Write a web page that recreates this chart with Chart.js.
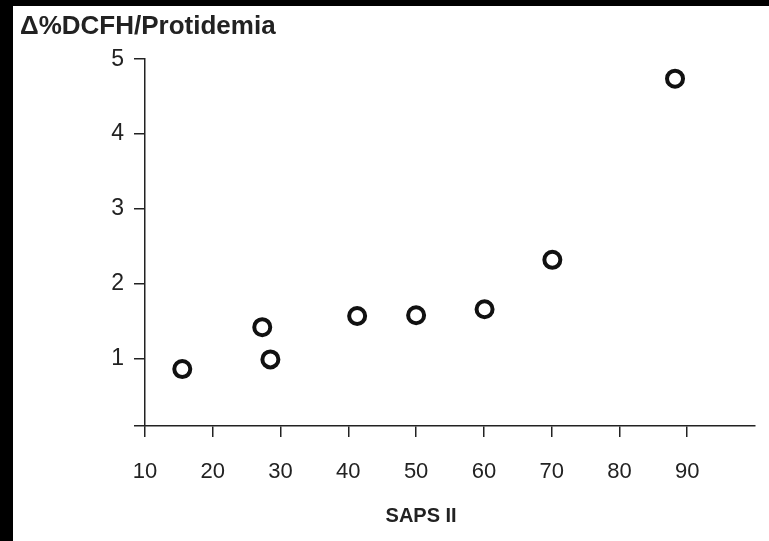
<!DOCTYPE html>
<html>
<head>
<meta charset="utf-8">
<script src="https://cdn.jsdelivr.net/npm/chart.js@4/dist/chart.umd.min.js"></script>
<style>
  html, body { margin: 0; padding: 0; background: #000; }
  #frame { position: absolute; left: 13px; top: 6px; width: 756px; height: 535px; background: #fff; }
</style>
</head>
<body>
<div id="frame"><canvas id="chart" width="756" height="535"></canvas></div>
<script>
// SAPS II score against the DCFH change normalised by protidemia
const sapsScore = [15.5, 27.3, 28.5, 41.3, 50, 60.1, 70.1, 88.2];
const dcfhRatio = [0.86, 1.42, 0.99, 1.57, 1.58, 1.66, 2.32, 4.74];

const xTicks = [10, 20, 30, 40, 50, 60, 70, 80, 90];
const yTicks = [1, 2, 3, 4, 5];

const yTitle = '\u0394%DCFH/Protidemia';
const xTitle = 'SAPS II';

const INK = '#222';
const FONT = "'Liberation Sans', Arial, sans-serif";

const points = sapsScore.map((x, i) => ({ x, y: dcfhRatio[i] }));

// x-axis caption, centred under the labelled tick range
const xCaption = {
  id: 'xCaption',
  afterDraw(chart) {
    const { ctx, scales } = chart;
    const x = (scales.x.getPixelForValue(xTicks[0]) + scales.x.getPixelForValue(xTicks[xTicks.length - 1])) / 2;
    ctx.save();
    ctx.font = `bold 20px ${FONT}`;
    ctx.fillStyle = INK;
    ctx.textAlign = 'center';
    ctx.textBaseline = 'middle';
    ctx.fillText(xTitle, x + 5, 510);
    ctx.restore();
  },
};

new Chart(document.getElementById('chart'), {
  type: 'scatter',
  data: {
    datasets: [{
      data: points,
      pointStyle: 'circle',
      pointRadius: 8,
      pointBorderWidth: 4,
      borderColor: '#111',
      backgroundColor: '#fff',
    }],
  },
  options: {
    responsive: false,
    animation: false,
    layout: { padding: { left: 7, right: 14, top: 0, bottom: 0 } },
    plugins: {
      legend: { display: false },
      tooltip: { enabled: false },
      title: {
        display: true,
        text: yTitle,
        align: 'start',
        color: INK,
        font: { family: FONT, size: 26, weight: 'bold' },
        padding: { top: 5, bottom: 17 },
      },
    },
    scales: {
      x: {
        type: 'linear',
        min: 10,
        max: 100,
        afterBuildTicks: (scale) => { scale.ticks = xTicks.map((v) => ({ value: v })); },
        afterFit: (scale) => { scale.height = 115; },
        grid: { drawOnChartArea: false, drawTicks: true, tickLength: 11, color: INK, lineWidth: 1.5 },
        border: { display: true, color: INK, width: 1.5 },
        ticks: { color: INK, padding: 22, maxRotation: 0, font: { family: FONT, size: 22 } },
      },
      y: {
        type: 'linear',
        min: 0.1,
        max: 5,
        // extra unlabelled tick at the floor draws the short stub left of the origin
        afterBuildTicks: (scale) => { scale.ticks = [0.1, ...yTicks].map((v) => ({ value: v })); },
        afterFit: (scale) => { scale.width = 125; },
        grid: { drawOnChartArea: false, drawTicks: true, tickLength: 11, color: INK, lineWidth: 1.5 },
        border: { display: true, color: INK, width: 1.5 },
        ticks: {
          color: INK,
          padding: 10,
          font: { family: FONT, size: 23 },
          callback: (v) => (yTicks.includes(v) ? String(v) : ''),
        },
      },
    },
  },
  plugins: [xCaption],
});
</script>
</body>
</html>
